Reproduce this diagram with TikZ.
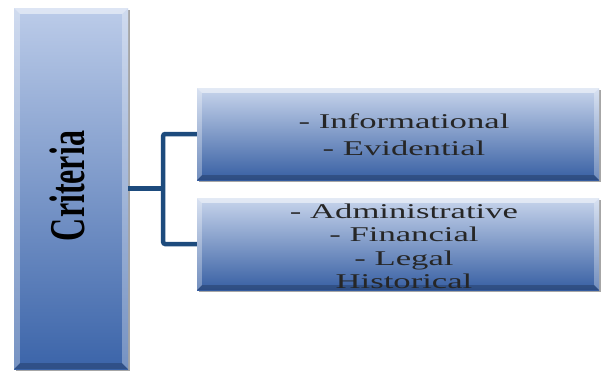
\documentclass[tikz,border=0pt]{standalone}
\usepackage{fontspec}
\setmainfont{Liberation Serif}
\usetikzlibrary{calc,shadows}
\definecolor{cTop}{HTML}{BCCCE9}
\definecolor{cMid}{HTML}{8FA7D3}
\definecolor{cBot}{HTML}{3B64A9}
\definecolor{rTop}{HTML}{C8D5EC}
\definecolor{rMid}{HTML}{93AAD5}
\definecolor{rBot}{HTML}{375FA3}
\definecolor{lineblue}{HTML}{1D4B7D}
\newcommand\bevelbox[2]{%
  \fill[white, opacity=.5] (#1.north west) -- (#1.north east) -- ($(#1.north east)+(-#2,#2)$) -- ($(#1.north west)+(#2,#2)$) -- cycle;
  \fill[white, opacity=.3] (#1.north west) -- ($(#1.north west)+(#2,#2)$) -- ($(#1.south west)+(#2,-#2)$) -- (#1.south west) -- cycle;
  \fill[white, opacity=.3] (#1.north east) -- ($(#1.north east)+(-#2,#2)$) -- ($(#1.south east)+(-#2,-#2)$) -- (#1.south east) -- cycle;
  \fill[black, opacity=.2] (#1.south west) -- ($(#1.south west)+(#2,-#2)$) -- ($(#1.south east)+(-#2,-#2)$) -- (#1.south east) -- cycle;
}
\begin{document}
\begin{tikzpicture}[x=1pt,y=-1pt,
  box/.style={rectangle, inner sep=0pt, draw=none,
    drop shadow={shadow xshift=1.5pt, shadow yshift=-1.5pt, opacity=0.35, fill=black}},
  critbox/.style={box, top color=cTop, middle color=cMid, bottom color=cBot},
  itembox/.style={box, top color=rTop, middle color=rMid, bottom color=rBot},
  conn/.style={line width=4.5pt, draw=lineblue, rounded corners=2pt},
  txt/.style={anchor=base, inner sep=0pt, text=black!85}]
\useasboundingbox (0,0) rectangle (601,372);
% boxes
\node[critbox, minimum width=114pt, minimum height=361pt] (crit) at (71,188.5) {};
\node[itembox, minimum width=402pt, minimum height=92pt] (b1) at (398,134) {};
\node[itembox, minimum width=402pt, minimum height=92pt] (b2) at (398,244) {};
\bevelbox{crit}{6}
\bevelbox{b1}{5}
\bevelbox{b2}{5}
% connectors
\draw[conn] (crit.east) -- ++(35,0) coordinate (j);
\draw[conn] (b1.west) -| (j) |- (b2.west);
% texts
\node[rotate=90, anchor=base, inner sep=0pt, font=\bfseries\fontsize{50}{50}\selectfont] (ct) at (84,186) {\scalebox{0.64}[1]{Criteria}};
\node[txt, font=\fontsize{21}{27}\selectfont] (t1) at (404,128)
  {\scalebox{1.65}[1]{\begin{tabular}[t]{@{}c@{}}- Informational\\- Evidential\end{tabular}}};
\node[txt, font=\fontsize{21}{23.5}\selectfont] (t2) at (404,218)
  {\scalebox{1.65}[1]{\begin{tabular}[t]{@{}c@{}}- Administrative\\- Financial\\- Legal\\Historical\end{tabular}}};
\end{tikzpicture}
\end{document}
